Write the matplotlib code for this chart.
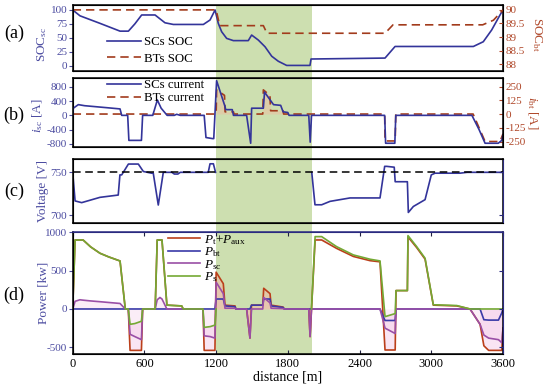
import matplotlib
matplotlib.use('Agg')
import matplotlib.pyplot as plt
import numpy as np
from matplotlib.patches import Rectangle
from matplotlib import transforms

plt.rcParams['font.family'] = ['Liberation Serif', 'DejaVu Serif']
plt.rcParams['mathtext.fontset'] = 'custom'
plt.rcParams['mathtext.rm'] = 'Liberation Serif'
plt.rcParams['mathtext.it'] = 'Liberation Serif:italic'
plt.rcParams['axes.unicode_minus'] = False

nan = np.nan

# ---------------- data ----------------
# (a) state of charge
soc_sc_d = [0, 61, 228, 396, 466, 520, 577, 689, 772, 842, 1093, 1149, 1191,
            1218, 1246, 1288, 1344, 1469, 1497, 1553, 1609, 1665, 1720, 1790,
            1985, 1994, 2613, 2697, 3352, 3435, 3505, 3575, 3600]
soc_sc_v = [100, 89.5, 76, 62, 62, 75, 91, 91, 77, 74, 74, 82, 100,
            76, 61, 49, 45, 45, 55, 46, 34, 17, 8, 0.5,
            0.5, 12, 13.7, 34.5, 34.5, 43, 64, 91, 100]
soc_bt_d = [0, 1200, 1230, 1595, 1625, 2613, 2680, 3430, 3520, 3600]
soc_bt_v = [90, 90, 89.42, 89.42, 89.14, 89.14, 89.45, 89.45, 89.62, 90]

# (b) currents
isc_d = [0, 5, 47, 100, 200, 300, 396, 410, 460, 470, 575, 585, 670, 708, 740,
         790, 850, 870, 900, 1100, 1115, 1170, 1180, 1204, 1274, 1280, 1335,
         1345, 1455, 1489, 1497, 1595, 1605, 1680, 1740, 1760, 1800, 1810, 1975,
         1987, 1998, 2610, 2618, 2695, 2703, 3340, 3400, 3450, 3560, 3590, 3600]
isc_v = [0, 200, 300, 270, 240, 210, 180, 0, 0, -700, -700, 0, 0, 430, 200,
         0, 0, 30, 0, 0, -620, -650, -650, 970, 250, 160, 160,
         0, 0, -780, 200, 200, 650, 300, 280, 100, 80, 0, 0,
         -750, 0, 0, -780, -780, 0, 0, -400, -780, -780, -700, -550]
ibt_d = [0, 1200, 1204, 1270, 1275, 1345, 1350, 1590, 1595, 1650, 1656, 1760,
         1765, 2610, 2613, 2698, 2703, 3350, 3450, 3575, 3600]
ibt_v = [0, 0, 220, 170, 20, 20, 0, 0, 220, 170, 30, 30,
         0, 0, -245, -245, 0, 0, -250, -250, -180]

# (c) voltage
volt_d = [0, 20, 75, 228, 381, 395, 410, 466, 549, 591, 660, 674, 716, 758, 830,
          850, 880, 900, 1134, 1149, 1177, 1195, 1200, 2000, 2027, 2083, 2153,
          2320, 2571, 2610, 2627, 2690, 2698, 2800, 2808, 2850, 2948, 3000,
          3031, 3240, 3300, 3600]
volt_v = [750, 716.5, 714.5, 720.7, 723.4, 747, 747, 759.7, 759.7, 751, 749, 749,
          711.7, 750, 750, 748, 748, 750, 750, 760, 760, 750, nan, 750, 712, 712,
          716, 720, 720, 757, 757, 756, 739, 739, 703, 710, 718, 747, 749, 749,
          750, 750]
volt_ref = [750, 750]

# (d) power
p_d   = [0, 20, 60, 87, 150, 228, 300, 396, 440, 465, 480, 520, 575, 585, 690,
         707, 730, 747, 788, 912, 925, 1090, 1100, 1150, 1190, 1200, 1260, 1274,
         1358, 1365, 1455, 1483, 1496, 1590, 1598, 1651, 1660, 1760, 1770, 1975,
         1986, 1998, 2028, 2083, 2208, 2348, 2488, 2571, 2613, 2698, 2705, 2800,
         2805, 2878, 2948, 3017, 3213, 3324, 3408, 3440, 3480, 3562, 3590, 3600]
p_t   = [0, 900, 900, 900, 810, 727, 680, 626, 0, 0, -540, -540, -540, 0, 0,
         900, 900, 900, 50, 40, 0, 0, -540, -540, -540, 480, 330, 50,
         40, 0, 0, -380, 50, 50, 270, 200, 50, 25, 0, 0,
         -360, 0, 900, 900, 790, 685, 630, 615, -535, -535, 240, 240,
         940, 800, 650, 50, 40, 0, -200, -480, -540, -540, -540, -250]
p_bt  = [0, 0, 0, 0, 0, 0, 0, 0, 0, 0, 0, 0, 0, 0, 0,
         0, 0, 0, 0, 0, 0, 0, 0, 0, 0, 130, 130, 40,
         30, 0, 0, 0, 50, 50, 130, 130, 40, 20, 0, 0,
         0, 0, 0, 0, 0, 0, 0, 0, -150, -150, 0, 0,
         0, 0, 0, 0, 0, 0, 0, -140, -145, -145, -50, 0]
p_sc  = [0, 100, 120, 115, 105, 95, 85, 72, 0, 0, -330, -360, -400, 0, 0,
         120, 150, 130, 0, 0, 0, 0, -350, -360, -380, 350, 200, 10,
         10, 0, 0, -380, 0, 0, 150, 80, 10, 5, 0, 0,
         -360, 0, 0, 0, 0, 0, 0, 0, -250, -320, 0, 0,
         0, 0, 0, 0, 0, 0, -200, -340, -380, -400, -440, -250]
p_s   = [0, 900, 900, 900, 810, 727, 680, 626, 0, 0, -200, -190, -160, 0, 0,
         900, 900, 900, 50, 40, 0, 0, -240, -230, -210, 0, nan, nan,
         nan, nan, nan, nan, nan, nan, nan, nan, nan, nan, nan, nan,
         nan, 0, 944, 944, 813, 705, 649, 627, -100, -60, 240, 240,
         957, 813, 662, 55, 45, 0, 0, 0, 0, 0, 0, 0]

x_ticks = [0, 600, 1200, 1800, 2400, 3000, 3600]
green_span = [1200, 2000]

# ---------------- style ----------------
c_sc = '#33349a'
c_bt = '#a23b1c'
c_left = '#4b4ba0'
c_right = '#b0482a'
c_green_bg = '#cddfb0'
c_pt = '#bb3f1a'
c_pbt = '#3a3aa8'
c_psc = '#9a4fa6'
c_ps = '#74a934'
navy = '#2a2a80'

fig = plt.figure(figsize=(5.5, 3.84), dpi=100)
L, Wd = 72.7 / 550, 430.3 / 550


def pos(top, bot):
    return [L, 1 - bot / 384, Wd, (bot - top) / 384]


axA = fig.add_axes(pos(5, 71))
axB = fig.add_axes(pos(78, 147))
axC = fig.add_axes(pos(158.5, 223.3))
axD = fig.add_axes(pos(232, 354.3))

for ax in (axA, axB, axC, axD):
    ax.set_facecolor('none')
    ax.set_xlim(0, 3600)
    for s in ax.spines.values():
        s.set_linewidth(1.1)

trans = transforms.blended_transform_factory(axD.transData, fig.transFigure)
rect = Rectangle((green_span[0], 1 - 354.3 / 384), green_span[1] - green_span[0],
                 (354.3 - 5) / 384, transform=trans, facecolor=c_green_bg,
                 edgecolor='none', zorder=-10)
fig.add_artist(rect)

fs_tick = 8
fs_lab = 9.5
fs_leg = 9.3


def left_style(ax):
    ax.tick_params(axis='y', direction='out', length=3, width=0.8,
                   labelsize=fs_tick, colors=c_left, labelcolor=c_left, pad=1)
    ax.tick_params(axis='x', which='both', bottom=False, labelbottom=False)


def right_style(ax):
    ax.tick_params(axis='y', direction='in', length=3, width=0.8,
                   labelsize=fs_tick, colors=c_right, labelcolor=c_right, pad=2)


# ----- (a) -----
l1, = axA.plot(soc_sc_d, soc_sc_v, color=c_sc, lw=1.2)
axA.set_ylim(-9.5, 108.9)
axA.set_yticks([0, 25, 50, 75, 100])
left_style(axA)
axA.set_ylabel('SOC$_\\mathrm{sc}$', color=c_left, fontsize=fs_lab)
axA.yaxis.set_label_coords(-0.055, 0.4)
axA2 = axA.twinx()
l2, = axA2.plot(soc_bt_d, soc_bt_v, color=c_bt, lw=1.2, ls=(0, (5, 3)))
axA2.set_ylim(87.75, 90.18)
axA2.set_yticks([88, 88.5, 89, 89.5, 90])
axA2.set_yticklabels(['88', '88.5', '89', '89.5', '90'])
right_style(axA2)
axA2.set_ylabel('SOC$_\\mathrm{bt}$', color=c_right, fontsize=fs_lab, rotation=270)
axA2.yaxis.set_label_coords(1.095, 0.55)
axA2.set_xlim(0, 3600)
axA2.tick_params(axis='x', which='both', bottom=False, labelbottom=False)
axA.legend([l1, l2], ['SCs SOC', 'BTs SOC'], loc='upper left', frameon=False,
           bbox_to_anchor=(107 / 550, 1 - 36 / 384), bbox_transform=fig.transFigure,
           borderpad=0, borderaxespad=0, handlelength=2.6, handletextpad=0.3,
           labelspacing=0.35, fontsize=fs_leg)

# ----- (b) -----
b1, = axB.plot(isc_d, isc_v, color=c_sc, lw=1.2)
axB.set_ylim(-885, 1045)
axB.set_yticks([-800, -400, 0, 400, 800])
left_style(axB)
axB.set_ylabel('$i_\\mathrm{sc}$ [A]', color=c_left, fontsize=fs_lab)
axB.yaxis.set_label_coords(-0.065, 0.45)
axB2 = axB.twinx()
ibt_arr = np.array(ibt_v, dtype=float)
ibt_d_arr = np.array(ibt_d, dtype=float)
axB2.fill_between(ibt_d_arr, ibt_arr, 0,
                  where=(ibt_d_arr >= 1200) & (ibt_d_arr <= 2000),
                  color='#f2b8a0', alpha=0.45, lw=0, zorder=0)
b2, = axB2.plot(ibt_d, ibt_v, color=c_bt, lw=1.2, ls=(0, (5, 3)))
axB2.set_ylim(-300, 328)
axB2.set_yticks([-250, -125, 0, 125, 250])
right_style(axB2)
axB2.set_ylabel('$i_\\mathrm{bt}$ [A]', color=c_right, fontsize=fs_lab, rotation=270)
axB2.yaxis.set_label_coords(1.085, 0.5)
axB2.set_xlim(0, 3600)
axB2.tick_params(axis='x', which='both', bottom=False, labelbottom=False)
axB.set_zorder(axB2.get_zorder() + 1)
axB.legend([b1, b2], ['SCs current', 'BTs current'], loc='upper left', frameon=False,
           bbox_to_anchor=(107 / 550, 1 - 79 / 384), bbox_transform=fig.transFigure,
           borderpad=0, borderaxespad=0, handlelength=2.6, handletextpad=0.3,
           labelspacing=0.1, fontsize=fs_leg)

# ----- (c) -----
axC.plot([0, 3600], volt_ref, color='black', lw=1.1, ls=(0, (5, 3)), zorder=3)
axC.plot(volt_d, volt_v, color=c_sc, lw=1.2, zorder=2)
axC.set_ylim(690.3, 766.2)
axC.set_yticks([700, 750])
left_style(axC)
axC.set_ylabel('Voltage [V]', color=c_left, fontsize=fs_lab)
axC.yaxis.set_label_coords(-0.055, 0.5)
axC2 = axC.twinx()
axC2.set_ylim(690.3, 766.2)
axC2.set_yticks([700, 750])
axC2.tick_params(axis='y', direction='in', length=3, width=0.8, colors=navy, labelright=False)
axC2.tick_params(axis='x', which='both', bottom=False, labelbottom=False)
axC2.spines['right'].set_color(navy)

# ----- (d) -----
pd_arr = np.array(p_d, dtype=float)
pt_arr = np.array(p_t, dtype=float)
ps_arr = np.array(p_s, dtype=float)
psc_arr = np.array(p_sc, dtype=float)
in_green = (pd_arr >= 1200) & (pd_arr <= 2000)
axD.fill_between(pd_arr, psc_arr, 0, color='#f3c6e6', alpha=0.3, lw=0, zorder=0)
axD.fill_between(pd_arr, pt_arr, np.where(np.isnan(ps_arr), 0, ps_arr),
                 where=(~in_green) & (pt_arr < np.nan_to_num(ps_arr)),
                 color='#f3c6e6', alpha=0.45, lw=0, zorder=0)
axD.fill_between(pd_arr, pt_arr, 0, where=in_green | (pd_arr == 1190),
                 color='#f2b8a0', alpha=0.55, lw=0, zorder=0)
d1, = axD.plot(p_d, p_t, color=c_pt, lw=1.2)
d2, = axD.plot(p_d, p_bt, color=c_pbt, lw=1.2)
d3, = axD.plot(p_d, p_sc, color=c_psc, lw=1.2)
d4, = axD.plot(p_d, p_s, color=c_ps, lw=1.2)
axD.set_ylim(-591, 1004)
axD.set_yticks([-500, 0, 500, 1000])
axD.tick_params(axis='y', direction='out', length=3, width=0.8,
                labelsize=fs_tick, colors=c_left, labelcolor=c_left, pad=1)
axD.set_xticks(x_ticks)
axD.tick_params(axis='x', direction='in', length=3, width=0.8, top=True,
                labelsize=fs_tick + 1, colors='#202040', labelcolor='black', pad=3)
axD.set_ylabel('Power [kw]', color=c_left, fontsize=fs_lab)
axD.yaxis.set_label_coords(-0.055, 0.5)
axD.set_xlabel('distance [m]', fontsize=fs_lab + 0.5, labelpad=0)
axD2 = axD.twinx()
axD2.set_ylim(-591, 1004)
axD2.set_yticks([-500, 0, 500, 1000])
axD2.tick_params(axis='y', direction='in', length=3, width=0.8, colors=navy, labelright=False)
axD2.tick_params(axis='x', which='both', bottom=False, labelbottom=False)
axD2.spines['right'].set_color(navy)
axD2.spines['top'].set_color(navy)
axD.spines['top'].set_color(navy)
axD.legend([d1, d2, d3, d4],
           ['$P_\\mathrm{t}$+$P_\\mathrm{aux}$', '$P_\\mathrm{bt}$', '$P_\\mathrm{sc}$', '$P_\\mathrm{s}$'],
           loc='upper left', frameon=False,
           bbox_to_anchor=(168 / 550, 1 - 233 / 384), bbox_transform=fig.transFigure,
           borderpad=0, borderaxespad=0, handlelength=2.4, handletextpad=0.3,
           labelspacing=-0.1, fontsize=fs_leg + 0.2)

# panel letters
for lab, yy in (('(a)', 33), ('(b)', 115), ('(c)', 191), ('(d)', 295)):
    fig.text(14 / 550, 1 - yy / 384, lab, fontsize=13, ha='center', va='center')

fig.savefig('out.png', dpi=100)
